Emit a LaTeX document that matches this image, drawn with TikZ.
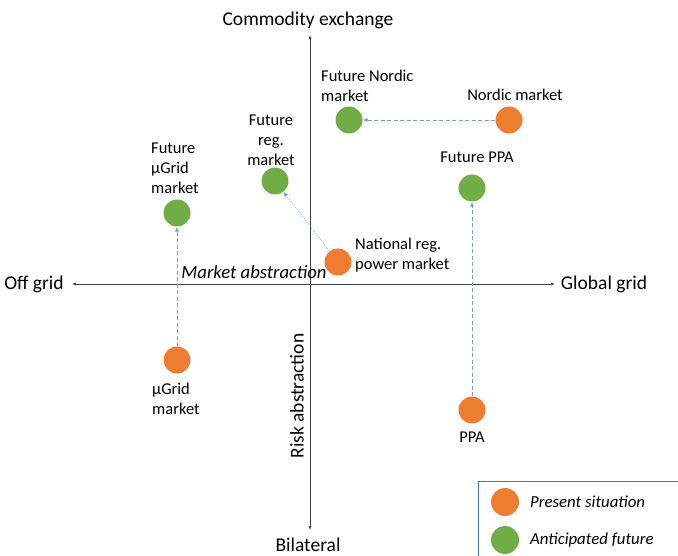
\documentclass[tikz,border=0pt]{standalone}
\usepackage{fontspec}
\setmainfont{Carlito}
\usetikzlibrary{arrows.meta}
\definecolor{orgc}{HTML}{ED7D31}
\definecolor{grnc}{HTML}{70AD47}
\definecolor{bluec}{HTML}{4472C4}
\begin{document}
\begin{tikzpicture}[x=1pt,y=-1pt,
  every node/.style={font=\fontsize{16.5}{20}\selectfont, inner sep=0pt},
  axlbl/.style={font=\fontsize{19.5}{23}\selectfont},
  present/.style={circle, fill=orgc, minimum size=27pt},
  future/.style={circle, fill=grnc, minimum size=27pt},
  axis/.style={draw=black!75, line width=0.6pt, {Latex[length=4pt,width=3pt]}-{Latex[length=4pt,width=3pt]}},
  move/.style={draw=bluec!70, line width=0.6pt, dash pattern=on 4pt off 2.5pt, -{Latex[length=5pt,width=4pt]}},
  movedot/.style={draw=bluec!70, line width=0.5pt, dash pattern=on 1.2pt off 1.2pt, -{Latex[length=5pt,width=4pt]}},
  lbl/.style={align=left, anchor=west},
  lblc/.style={align=center}]
\clip (0,0) rectangle (678,556);
\useasboundingbox (0,0) rectangle (678,556);
% axes
\coordinate (top) at (310,35);
\coordinate (bot) at (310,530);
\coordinate (lft) at (72,284);
\coordinate (rgt) at (555,284);
\draw[axis] (bot) -- (top);
\draw[axis] (lft) -- (rgt);
\node[axlbl] (ce) at (308,20) {Commodity exchange};
\node[axlbl] (bl) at (308,545) {Bilateral};
\node[axlbl] (og) at (34,284) {Off grid};
\node[axlbl] (gg) at (604,284) {Global grid};
\node[axlbl, rotate=90] (ra) at (297,396) {Risk abstraction};
\node[font=\fontsize{18.7}{22}\selectfont\itshape] (ma) at (254,272) {Market abstraction};
% points
\node[future] (fnm) at (349,120) {};
\node[present] (nm) at (509,120) {};
\node[future] (frm) at (275,181) {};
\node[future] (fppa) at (472,188) {};
\node[future] (fmg) at (177,213) {};
\node[present] (nrm) at (338,262) {};
\node[present] (mg) at (177,360) {};
\node[present] (ppa) at (472,410) {};
% labels
\node[lbl] (lfnm) at (321,86) {Future Nordic\\market};
\node (lnm) at (515,95) {Nordic market};
\node[lblc] (lfrm) at (271,140) {Future\\reg.\\market};
\node (lfppa) at (477,157) {Future PPA};
\node[lbl] (lfmg) at (151,168) {Future\\µGrid\\market};
\node[lbl] (lnrm) at (355,255) {National reg.\\power market};
\node[lbl] (lmg) at (152,399) {µGrid\\market};
\node (lppa) at (472,437) {PPA};
% transitions
\draw[move] (nm) -- (fnm);
\draw[move] (ppa) -- (fppa);
\draw[move] (mg) -- (fmg);
\draw[movedot] (nrm) -- (frm);
% legend
\draw[draw=bluec, line width=0.8pt] (478,481) rectangle (700,600);
\node[present, minimum size=28pt] (lgp) at (505,502) {};
\node[future, minimum size=28pt] (lgf) at (505,540) {};
\node[lbl, font=\fontsize{16.8}{20}\selectfont\itshape] (lgpt) at (530,502) {Present situation};
\node[lbl, font=\fontsize{16.8}{20}\selectfont\itshape] (lgft) at (530,540) {Anticipated future};
\end{tikzpicture}
\end{document}
